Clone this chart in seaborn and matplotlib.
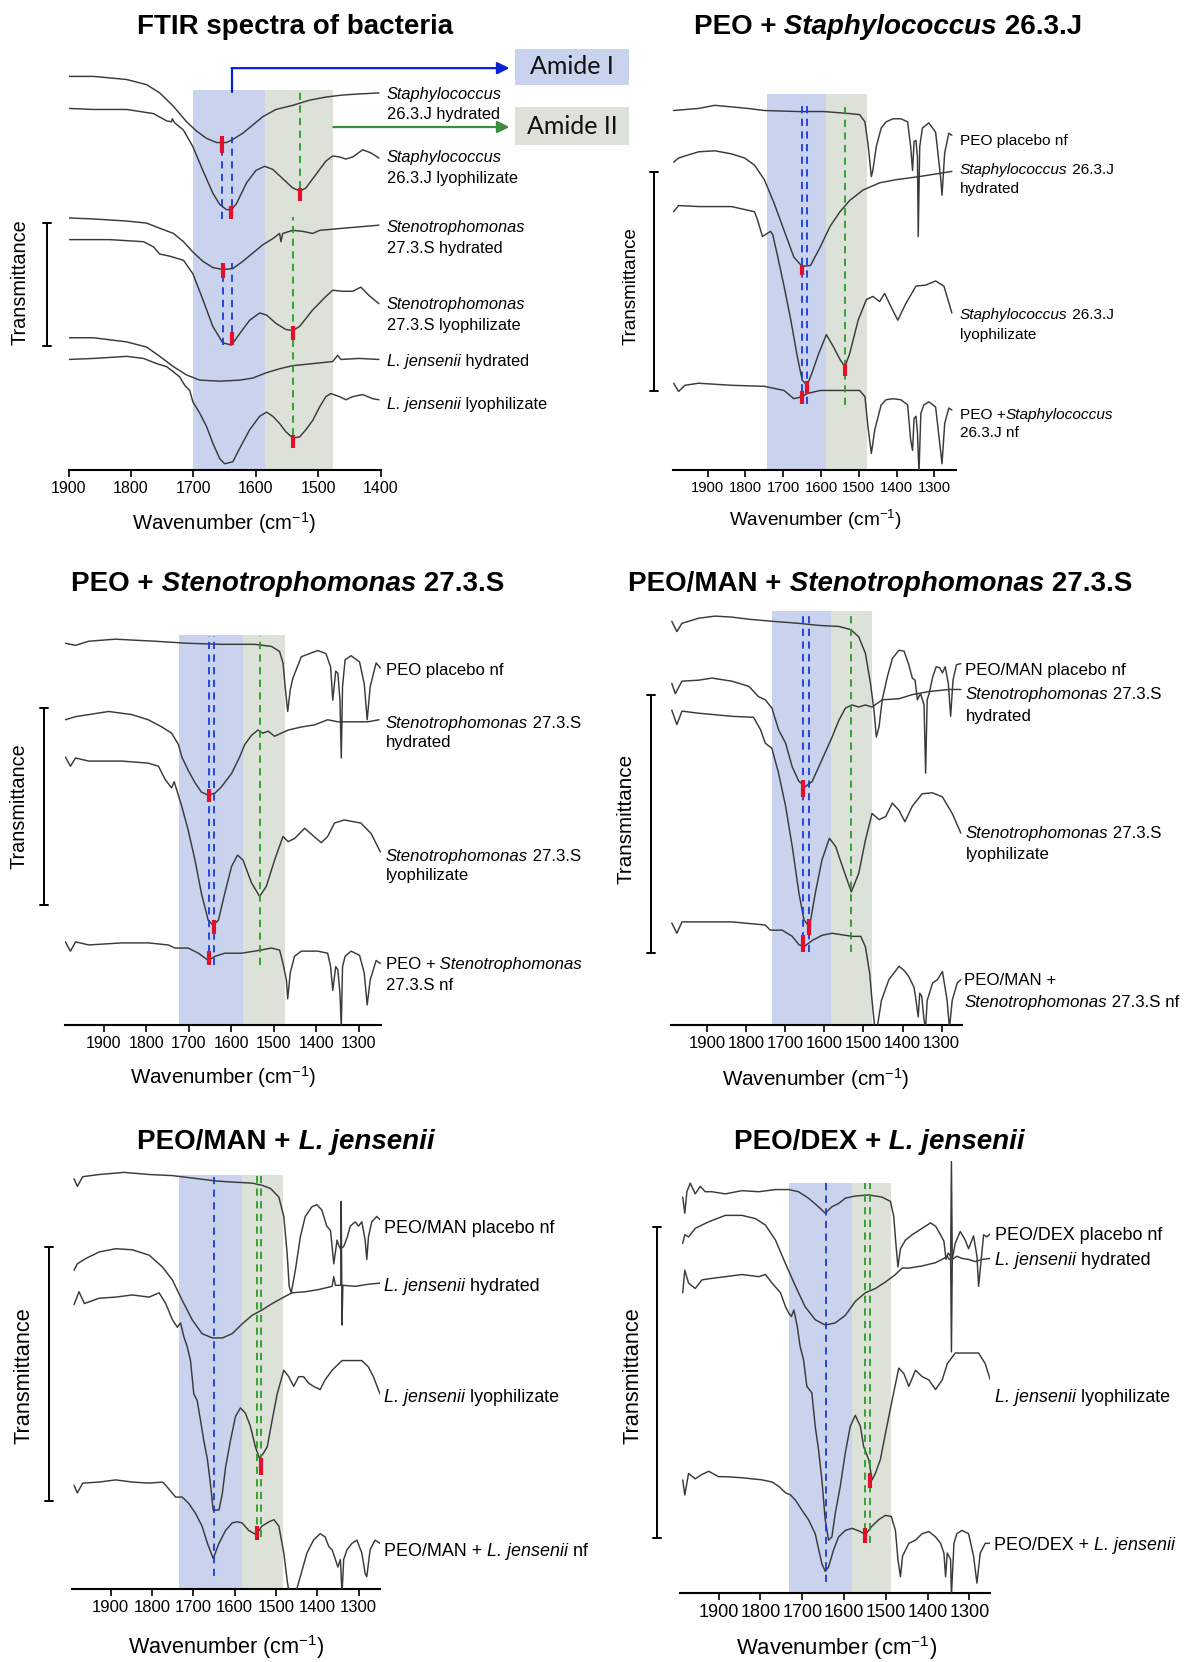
import matplotlib
matplotlib.use("Agg")
import matplotlib.pyplot as plt
import seaborn as sns
from matplotlib.lines import Line2D
from matplotlib.patches import Rectangle

# ---------------- data (wavenumber, cm-1 ; transmittance, arbitrary offset units) -------------
# Panel 1: FTIR spectra of bacteria
p1_wn_staph_hyd = [1900, 1860, 1807, 1775, 1754, 1732, 1711, 1695, 1679, 1663, 1647, 1637, 1621, 1605, 1589, 1568, 1541, 1514, 1488, 1461, 1435, 1403]
p1_t_staph_hyd = [381, 381, 378, 373, 365, 352, 337, 328, 321, 317, 317, 320, 326, 334, 342, 349, 353, 358, 361, 363, 364, 365]
p1_wn_staph_lyo = [1900, 1860, 1807, 1764, 1743, 1735, 1734, 1730, 1716, 1701, 1685, 1669, 1658, 1647, 1639, 1631, 1615, 1600, 1586, 1573, 1557, 1541, 1529, 1520, 1504, 1488, 1477, 1466, 1456, 1445, 1429, 1416, 1403]
p1_t_staph_lyo = [350, 349, 349, 345, 338, 337, 340, 336, 329, 313, 290, 268, 257, 252, 252, 258, 278, 290, 294, 291, 282, 273, 270, 273, 286, 299, 304, 303, 301, 303, 310, 307, 302]
p1_wn_steno_hyd = [1900, 1860, 1807, 1775, 1754, 1732, 1716, 1701, 1685, 1669, 1653, 1637, 1621, 1605, 1589, 1573, 1562, 1560, 1557, 1541, 1525, 1509, 1498, 1461, 1403]
p1_t_steno_hyd = [244, 243, 241, 239, 234, 229, 221, 211, 202, 196, 194, 195, 202, 210, 218, 224, 229, 221, 229, 232, 231, 229, 232, 234, 237]
p1_wn_steno_lyo = [1900, 1834, 1780, 1764, 1754, 1738, 1716, 1701, 1685, 1669, 1653, 1639, 1626, 1610, 1594, 1583, 1568, 1552, 1541, 1530, 1509, 1488, 1477, 1461, 1445, 1432, 1419, 1403]
p1_t_steno_lyo = [223, 223, 221, 216, 209, 207, 203, 190, 165, 139, 123, 121, 132, 145, 152, 150, 142, 136, 135, 139, 155, 168, 174, 173, 173, 177, 169, 161]
p1_wn_lj_hyd = [1900, 1860, 1807, 1775, 1754, 1732, 1711, 1690, 1658, 1626, 1605, 1584, 1562, 1541, 1509, 1477, 1469, 1464, 1435, 1403]
p1_t_lj_hyd = [128, 128, 124, 119, 110, 100, 92, 87, 86, 87, 89, 94, 98, 101, 103, 105, 111, 107, 108, 107]
p1_wn_lj_lyo = [1900, 1860, 1807, 1780, 1759, 1743, 1732, 1722, 1714, 1706, 1701, 1690, 1679, 1669, 1658, 1650, 1637, 1626, 1610, 1594, 1583, 1573, 1562, 1552, 1541, 1530, 1520, 1509, 1498, 1488, 1480, 1466, 1456, 1445, 1429, 1413, 1403]
p1_t_lj_lyo = [107, 108, 110, 108, 103, 100, 95, 90, 82, 77, 66, 55, 42, 26, 11, 6, 8, 21, 39, 52, 56, 52, 45, 37, 31, 32, 39, 48, 61, 71, 74, 71, 68, 71, 73, 69, 68]

# Panel 2: PEO + Staphylococcus 26.3.J
p2_wn_peo = [1990, 1924, 1881, 1794, 1750, 1663, 1593, 1524, 1498, 1484, 1476, 1467, 1463, 1454, 1441, 1428, 1410, 1389, 1371, 1363, 1358, 1354, 1349, 1345, 1343, 1339, 1332, 1315, 1297, 1284, 1280, 1273, 1262, 1254]
p2_t_peo = [348, 350, 353, 350, 348, 347, 347, 345, 344, 337, 316, 284, 290, 313, 331, 337, 340, 340, 337, 313, 290, 318, 319, 303, 226, 313, 331, 336, 327, 284, 266, 307, 326, 324]
p2_wn_staph_hyd = [1990, 1977, 1951, 1924, 1881, 1837, 1802, 1776, 1750, 1724, 1698, 1672, 1650, 1628, 1602, 1576, 1550, 1524, 1489, 1445, 1402, 1341, 1254]
p2_t_staph_hyd = [298, 302, 305, 308, 309, 306, 302, 295, 281, 258, 232, 206, 197, 198, 216, 236, 250, 261, 271, 278, 281, 284, 289]
p2_wn_staph_lyo = [1990, 1977, 1924, 1837, 1776, 1768, 1755, 1734, 1728, 1715, 1698, 1680, 1663, 1650, 1637, 1624, 1606, 1586, 1567, 1550, 1537, 1524, 1502, 1480, 1463, 1445, 1432, 1415, 1397, 1376, 1349, 1323, 1297, 1275, 1254]
p2_t_staph_lyo = [250, 256, 255, 255, 250, 242, 226, 231, 228, 207, 178, 145, 110, 87, 82, 94, 113, 131, 119, 107, 100, 113, 145, 165, 168, 163, 171, 158, 145, 161, 178, 179, 183, 178, 152]
p2_wn_nf = [1990, 1977, 1960, 1924, 1837, 1750, 1698, 1672, 1650, 1637, 1602, 1532, 1498, 1484, 1476, 1467, 1458, 1441, 1428, 1410, 1389, 1371, 1363, 1358, 1354, 1349, 1345, 1341, 1336, 1328, 1315, 1297, 1284, 1280, 1273, 1262, 1254]
p2_t_nf = [84, 76, 82, 84, 82, 81, 77, 69, 71, 74, 77, 77, 77, 71, 42, 16, 39, 63, 68, 69, 68, 63, 29, 19, 50, 52, 36, -3, 55, 63, 66, 61, 19, 6, 45, 60, 58]

# Panel 3: PEO + Stenotrophomonas 27.3.S
p3_wn_peo = [1990, 1966, 1935, 1873, 1779, 1701, 1623, 1545, 1505, 1486, 1478, 1473, 1467, 1461, 1455, 1435, 1416, 1396, 1377, 1366, 1361, 1354, 1349, 1344, 1341, 1338, 1332, 1318, 1298, 1287, 1280, 1273, 1259, 1249]
p3_t_peo = [369, 367, 371, 373, 371, 369, 368, 368, 366, 361, 350, 327, 303, 324, 335, 356, 359, 362, 359, 346, 314, 342, 340, 314, 258, 327, 353, 357, 351, 330, 295, 327, 350, 345]
p3_wn_steno_hyd = [1990, 1966, 1935, 1888, 1834, 1795, 1763, 1740, 1724, 1716, 1701, 1685, 1670, 1654, 1638, 1623, 1599, 1580, 1568, 1552, 1537, 1525, 1513, 1498, 1482, 1466, 1435, 1404, 1373, 1349, 1326, 1279, 1252]
p3_t_steno_hyd = [295, 298, 300, 303, 300, 295, 288, 282, 271, 259, 246, 234, 225, 222, 224, 230, 243, 259, 271, 280, 285, 282, 284, 279, 282, 285, 288, 290, 295, 293, 293, 293, 295]
p3_wn_steno_lyo = [1990, 1978, 1966, 1935, 1857, 1795, 1771, 1755, 1740, 1734, 1728, 1716, 1701, 1685, 1670, 1654, 1642, 1630, 1615, 1599, 1585, 1572, 1552, 1533, 1517, 1498, 1478, 1466, 1451, 1427, 1408, 1388, 1373, 1357, 1334, 1295, 1271, 1249]
p3_t_steno_lyo = [259, 250, 258, 255, 255, 253, 250, 237, 229, 235, 227, 211, 188, 159, 127, 101, 96, 101, 127, 153, 164, 159, 137, 124, 134, 159, 182, 177, 180, 190, 183, 176, 182, 195, 198, 195, 185, 167]
p3_wn_nf = [1990, 1978, 1966, 1935, 1857, 1795, 1748, 1732, 1701, 1677, 1654, 1638, 1615, 1576, 1545, 1505, 1486, 1478, 1470, 1467, 1461, 1451, 1435, 1396, 1373, 1366, 1361, 1354, 1349, 1344, 1341, 1338, 1332, 1318, 1298, 1287, 1280, 1273, 1259, 1249]
p3_t_nf = [80, 71, 80, 77, 79, 79, 77, 74, 74, 69, 62, 66, 69, 69, 71, 74, 72, 59, 43, 25, 50, 66, 71, 71, 69, 56, 33, 56, 53, 30, -3, 56, 66, 71, 67, 50, 19, 43, 62, 59]

# Panel 4: PEO/MAN + Stenotrophomonas 27.3.S
p4_wn_peo = [1990, 1977, 1964, 1921, 1879, 1836, 1793, 1734, 1665, 1614, 1563, 1533, 1512, 1495, 1482, 1473, 1467, 1460, 1452, 1439, 1426, 1409, 1396, 1384, 1375, 1368, 1362, 1354, 1345, 1341, 1337, 1332, 1323, 1314, 1305, 1298, 1291, 1283, 1277, 1271, 1262, 1251]
p4_t_peo = [391, 381, 389, 394, 396, 395, 393, 391, 389, 387, 386, 383, 376, 360, 331, 305, 279, 289, 315, 337, 355, 363, 362, 349, 336, 334, 315, 321, 310, 244, 315, 321, 337, 347, 346, 341, 347, 331, 299, 334, 349, 350]
p4_wn_steno_hyd = [1990, 1981, 1964, 1921, 1887, 1836, 1793, 1768, 1751, 1734, 1717, 1699, 1682, 1665, 1648, 1631, 1606, 1580, 1563, 1546, 1529, 1512, 1495, 1478, 1452, 1409, 1375, 1332, 1281, 1251]
p4_t_steno_hyd = [331, 321, 333, 334, 336, 333, 328, 318, 315, 307, 286, 273, 250, 236, 231, 236, 257, 279, 295, 307, 310, 308, 310, 308, 315, 316, 320, 323, 325, 325]
p4_wn_steno_lyo = [1990, 1977, 1964, 1921, 1836, 1781, 1763, 1751, 1734, 1717, 1699, 1682, 1665, 1652, 1638, 1623, 1606, 1587, 1571, 1554, 1531, 1512, 1495, 1478, 1460, 1443, 1426, 1409, 1394, 1375, 1350, 1324, 1298, 1273, 1251]
p4_t_steno_lyo = [305, 291, 304, 302, 299, 298, 286, 273, 268, 244, 212, 173, 128, 102, 95, 128, 160, 181, 173, 154, 129, 147, 179, 205, 199, 202, 215, 208, 197, 212, 224, 225, 221, 205, 186]
p4_wn_nf = [1990, 1977, 1964, 1921, 1836, 1751, 1738, 1708, 1682, 1665, 1652, 1631, 1606, 1580, 1529, 1507, 1495, 1484, 1478, 1471, 1465, 1454, 1435, 1409, 1396, 1384, 1371, 1367, 1360, 1356, 1351, 1345, 1341, 1337, 1323, 1311, 1298, 1286, 1280, 1273, 1260, 1251]
p4_t_nf = [99, 89, 100, 100, 100, 97, 92, 92, 86, 78, 76, 82, 87, 89, 86, 86, 76, 50, 24, -3, -3, 24, 44, 57, 53, 47, 37, 28, 8, 31, 28, 5, -3, 24, 41, 44, 52, 24, -3, 24, 41, 44]

# Panel 5: PEO/MAN + L. jensenii
p5_wn_peo = [1989, 1981, 1968, 1928, 1868, 1807, 1751, 1687, 1646, 1606, 1558, 1534, 1513, 1493, 1481, 1473, 1468, 1463, 1453, 1441, 1429, 1413, 1401, 1389, 1377, 1368, 1364, 1360, 1352, 1348, 1344, 1336, 1328, 1320, 1308, 1300, 1292, 1284, 1280, 1276, 1268, 1256, 1248]
p5_t_peo = [381, 374, 383, 385, 387, 385, 384, 381, 379, 378, 377, 375, 372, 364, 346, 312, 281, 275, 296, 327, 346, 355, 357, 352, 337, 333, 318, 302, 324, 319, 316, 318, 326, 337, 341, 337, 341, 324, 306, 327, 341, 346, 343]
p5_wn_lj_hyd = [1989, 1981, 1960, 1928, 1888, 1848, 1807, 1775, 1751, 1727, 1703, 1679, 1654, 1630, 1606, 1582, 1558, 1534, 1509, 1481, 1461, 1429, 1397, 1364, 1360, 1356, 1347, 1343, 1342, 1340, 1338, 1308, 1276, 1248]
p5_t_lj_hyd = [296, 302, 307, 313, 316, 315, 310, 299, 287, 268, 250, 237, 233, 233, 237, 246, 254, 259, 265, 271, 275, 276, 278, 281, 290, 282, 282, 282, 360, 245, 282, 281, 283, 284]
p5_wn_lj_lyo = [1989, 1977, 1964, 1928, 1888, 1848, 1807, 1783, 1767, 1751, 1739, 1731, 1723, 1715, 1707, 1699, 1691, 1683, 1675, 1666, 1658, 1652, 1638, 1630, 1622, 1610, 1598, 1586, 1574, 1562, 1550, 1540, 1530, 1521, 1509, 1497, 1481, 1469, 1457, 1445, 1433, 1421, 1409, 1393, 1381, 1364, 1340, 1324, 1292, 1276, 1264, 1248]
p5_t_lj_lyo = [264, 276, 265, 270, 271, 273, 271, 275, 265, 250, 243, 247, 234, 225, 212, 181, 175, 157, 138, 120, 95, 73, 73, 88, 113, 138, 160, 168, 163, 151, 132, 121, 126, 132, 157, 181, 203, 197, 188, 197, 197, 191, 188, 185, 194, 203, 212, 212, 212, 206, 197, 181]
p5_wn_nf = [1989, 1981, 1968, 1928, 1888, 1848, 1807, 1775, 1767, 1743, 1727, 1711, 1695, 1679, 1666, 1652, 1638, 1622, 1606, 1594, 1582, 1566, 1548, 1534, 1517, 1505, 1493, 1481, 1473, 1468, 1453, 1441, 1425, 1409, 1393, 1381, 1372, 1364, 1356, 1350, 1344, 1340, 1336, 1328, 1316, 1304, 1292, 1284, 1280, 1272, 1260, 1248]
p5_t_nf = [96, 89, 98, 99, 101, 99, 98, 99, 96, 85, 85, 79, 70, 58, 42, 28, 42, 54, 61, 62, 61, 54, 50, 58, 62, 64, 58, 33, 8, -5, -5, 11, 33, 45, 51, 48, 39, 36, 27, 20, 27, -5, 27, 36, 42, 45, 33, 14, 11, 36, 45, 42]

# Panel 6: PEO/DEX + L. jensenii
p6_wn_peo = [1986, 1981, 1976, 1968, 1956, 1944, 1932, 1916, 1884, 1844, 1804, 1764, 1732, 1709, 1685, 1661, 1645, 1629, 1613, 1597, 1573, 1541, 1509, 1489, 1481, 1476, 1471, 1465, 1453, 1437, 1421, 1405, 1393, 1381, 1369, 1361, 1356, 1351, 1345, 1343, 1341, 1334, 1322, 1310, 1302, 1290, 1282, 1278, 1271, 1266, 1258, 1250]
p6_t_peo = [368, 353, 373, 381, 371, 378, 373, 373, 371, 374, 373, 375, 375, 373, 367, 359, 353, 359, 362, 367, 369, 370, 368, 364, 350, 325, 303, 320, 328, 333, 337, 341, 344, 341, 333, 327, 310, 316, 313, 224, 310, 325, 336, 328, 320, 332, 313, 285, 313, 333, 331, 334]
p6_wn_lj_hyd = [1986, 1981, 1972, 1956, 1924, 1884, 1844, 1812, 1788, 1764, 1740, 1716, 1693, 1669, 1645, 1621, 1597, 1573, 1549, 1525, 1501, 1477, 1461, 1445, 1413, 1381, 1361, 1353, 1348, 1345, 1343, 1341, 1330, 1318, 1302, 1286, 1270, 1250]
p6_t_lj_hyd = [325, 333, 331, 339, 345, 351, 351, 348, 342, 328, 306, 285, 266, 254, 249, 251, 258, 271, 279, 283, 289, 296, 302, 302, 304, 307, 311, 313, 310, 310, 401, 310, 313, 311, 310, 308, 310, 311]
p6_wn_lj_lyo = [1986, 1981, 1972, 1956, 1940, 1924, 1884, 1844, 1804, 1788, 1772, 1752, 1740, 1732, 1726, 1720, 1712, 1705, 1697, 1689, 1677, 1669, 1661, 1653, 1645, 1637, 1629, 1621, 1609, 1597, 1585, 1573, 1561, 1553, 1541, 1533, 1525, 1513, 1501, 1485, 1469, 1457, 1445, 1429, 1413, 1397, 1381, 1365, 1353, 1334, 1302, 1278, 1262, 1250]
p6_t_lj_lyo = [279, 300, 288, 283, 291, 292, 294, 296, 294, 296, 288, 279, 266, 260, 257, 263, 248, 229, 217, 192, 186, 155, 133, 105, 68, 49, 52, 74, 99, 130, 155, 165, 155, 136, 124, 105, 111, 124, 148, 179, 209, 204, 192, 207, 201, 198, 189, 198, 213, 223, 223, 223, 213, 198]
p6_wn_nf = [1986, 1981, 1972, 1956, 1940, 1924, 1900, 1884, 1844, 1820, 1796, 1772, 1756, 1740, 1728, 1716, 1701, 1685, 1669, 1653, 1645, 1637, 1625, 1613, 1597, 1581, 1561, 1549, 1533, 1517, 1501, 1487, 1477, 1471, 1465, 1460, 1445, 1429, 1413, 1397, 1381, 1369, 1361, 1357, 1353, 1345, 1343, 1337, 1330, 1318, 1302, 1290, 1282, 1274, 1262, 1250]
p6_t_nf = [105, 91, 111, 106, 110, 113, 108, 108, 107, 106, 105, 103, 99, 93, 91, 86, 77, 68, 55, 27, 20, 24, 40, 52, 58, 60, 57, 54, 62, 68, 72, 71, 58, 31, 15, 34, 46, 49, 55, 57, 52, 46, 37, 15, 37, 31, -3, 46, 55, 58, 55, 34, 9, 37, 46, 46]

# Amide band regions (cm-1) and peak markers: (wavenumber, y_from, y_to)
p1_bands = [(1700, 1585), (1585, 1476)]
p2_bands = [(1743, 1587), (1587, 1478)]
p3_bands = [(1723, 1573), (1573, 1474)]
p4_bands = [(1735, 1584), (1584, 1478)]
p5_bands = [(1735, 1583), (1583, 1483)]
p6_bands = [(1732, 1582), (1582, 1487)]

p1_blue = [(1654, 243, 307), (1639, 243, 322), (1652, 121, 186), (1638, 121, 200)]
p1_green = [(1529, 260, 366), (1541, 21, 245)]
p1_red = [(1654, 307, 323), (1640, 243, 256), (1529, 260, 273), (1652, 186, 200), (1638, 121, 134), (1541, 126, 139), (1541, 21, 34)]
p2_blue = [(1650, 64, 355), (1636, 64, 355)]
p2_green = [(1538, 63, 355)]
p2_red = [(1650, 189, 198), (1636, 74, 86), (1650, 64, 76), (1538, 91, 103)]
p3_blue = [(1653, 58, 376), (1640, 58, 376)]
p3_green = [(1531, 58, 376)]
p3_red = [(1653, 215, 228), (1640, 88, 101), (1653, 58, 71)]
p4_blue = [(1654, 71, 401), (1638, 71, 401)]
p4_green = [(1531, 71, 399)]
p4_red = [(1654, 221, 237), (1638, 87, 103), (1654, 71, 87)]
p5_blue = [(1650, 12, 385)]
p5_green = [(1545, 48, 385), (1537, 48, 385)]
p5_red = [(1537, 106, 121), (1545, 45, 58)]
p6_blue = [(1643, 10, 381)]
p6_green = [(1551, 46, 381), (1537, 46, 381)]
p6_red = [(1537, 97, 111), (1549, 46, 60)]

# ---------------- style ----------------
sns.set_theme(style="white")
plt.rcParams["font.family"] = ["Liberation Sans", "DejaVu Sans"]
plt.rcParams["mathtext.fontset"] = "custom"
plt.rcParams["mathtext.rm"] = "Liberation Sans"
plt.rcParams["mathtext.it"] = "Liberation Sans:italic"
plt.rcParams["mathtext.bf"] = "Liberation Sans:bold"

W, H = 1192, 1662
fig = plt.figure(figsize=(W / 100, H / 100), dpi=100)
fig.patch.set_facecolor("white")
renderer = fig.canvas.get_renderer()

LINE = "#3a3a3a"
BLUE_BAND = "#c9d3ee"
GREEN_BAND = "#dce2d8"
BLUE_DASH = "#1c3bdc"
GREEN_DASH = "#2a9a2a"
RED = "#e3102c"


def fx(x):
    return x / W


def fy(y):
    return 1 - y / H


def rich(x, y, parts, size, center=False, bold=False):
    pxs = size * 100 / 72
    base = y + 0.35 * pxs
    arts = []
    for s, it in parts:
        t = fig.text(0, fy(base), s, fontsize=size,
                     fontstyle="italic" if it else "normal",
                     fontweight="bold" if bold else "normal",
                     ha="left", va="baseline", color="black")
        arts.append(t)
    widths = [a.get_window_extent(renderer).width for a in arts]
    x0 = x - sum(widths) / 2 if center else x
    for a, w in zip(arts, widths):
        a.set_x(fx(x0))
        x0 += w


def vline_fig(x, y0, y1, cap=4):
    fig.add_artist(Line2D([fx(x), fx(x)], [fy(y0), fy(y1)], transform=fig.transFigure, color="black", lw=1.4))
    for yy in (y0, y1):
        fig.add_artist(Line2D([fx(x - cap), fx(x + cap)], [fy(yy), fy(yy)], transform=fig.transFigure, color="black", lw=1.4))


panels = [
    dict(left=68.6, right=380.8, axis_y=470.0, top=60, ys=2.904, xlim=(1900, 1400), ticks=[1900, 1800, 1700, 1600, 1500, 1400],
         bands=p1_bands, band_top=368,
         curves=[(p1_wn_staph_hyd, p1_t_staph_hyd), (p1_wn_staph_lyo, p1_t_staph_lyo), (p1_wn_steno_hyd, p1_t_steno_hyd),
                 (p1_wn_steno_lyo, p1_t_steno_lyo), (p1_wn_lj_hyd, p1_t_lj_hyd), (p1_wn_lj_lyo, p1_t_lj_lyo)],
         blue=p1_blue, green=p1_green, red=p1_red, tick_fs=11.5),
    dict(left=672.9, right=956.4, axis_y=470.0, top=60, ys=2.904, xlim=(1992, 1242), ticks=[1900, 1800, 1700, 1600, 1500, 1400, 1300],
         bands=p2_bands, band_top=364,
         curves=[(p2_wn_peo, p2_t_peo), (p2_wn_staph_hyd, p2_t_staph_hyd), (p2_wn_staph_lyo, p2_t_staph_lyo), (p2_wn_nf, p2_t_nf)],
         blue=p2_blue, green=p2_green, red=p2_red, tick_fs=10.6),
    dict(left=64.5, right=380.8, axis_y=1024.5, top=610, ys=2.904, xlim=(1992, 1248), ticks=[1900, 1800, 1700, 1600, 1500, 1400, 1300],
         bands=p3_bands, band_top=377,
         curves=[(p3_wn_peo, p3_t_peo), (p3_wn_steno_hyd, p3_t_steno_hyd), (p3_wn_steno_lyo, p3_t_steno_lyo), (p3_wn_nf, p3_t_nf)],
         blue=p3_blue, green=p3_green, red=p3_red, tick_fs=11.5),
    dict(left=671.0, right=961.6, axis_y=1025.2, top=600, ys=2.904, xlim=(1992, 1249), ticks=[1900, 1800, 1700, 1600, 1500, 1400, 1300],
         bands=p4_bands, band_top=401,
         curves=[(p4_wn_peo, p4_t_peo), (p4_wn_steno_hyd, p4_t_steno_hyd), (p4_wn_steno_lyo, p4_t_steno_lyo), (p4_wn_nf, p4_t_nf)],
         blue=p4_blue, green=p4_green, red=p4_red, tick_fs=12),
    dict(left=72.4, right=379.6, axis_y=1588.5, top=1160, ys=2.790, xlim=(1993, 1249), ticks=[1900, 1800, 1700, 1600, 1500, 1400, 1300],
         bands=p5_bands, band_top=385,
         curves=[(p5_wn_peo, p5_t_peo), (p5_wn_lj_hyd, p5_t_lj_hyd), (p5_wn_lj_lyo, p5_t_lj_lyo), (p5_wn_nf, p5_t_nf)],
         blue=p5_blue, green=p5_green, red=p5_red, tick_fs=12),
    dict(left=680.2, right=990.3, axis_y=1592.8, top=1160, ys=2.790, xlim=(1992, 1250), ticks=[1900, 1800, 1700, 1600, 1500, 1400, 1300],
         bands=p6_bands, band_top=381,
         curves=[(p6_wn_peo, p6_t_peo), (p6_wn_lj_hyd, p6_t_lj_hyd), (p6_wn_lj_lyo, p6_t_lj_lyo), (p6_wn_nf, p6_t_nf)],
         blue=p6_blue, green=p6_green, red=p6_red, tick_fs=13),
]

axes = []
for p in panels:
    ax = fig.add_axes([fx(p["left"]), fy(p["axis_y"]), (p["right"] - p["left"]) / W, (p["axis_y"] - p["top"]) / H])
    ytop = (p["axis_y"] - p["top"]) * p["ys"] / 3
    ax.patch.set_alpha(0)
    (b0, b1), (g0, g1) = p["bands"]
    frac = p["band_top"] / ytop
    ax.axvspan(b1, b0, ymin=0, ymax=frac, color=BLUE_BAND, lw=0, zorder=0)
    ax.axvspan(g1, g0, ymin=0, ymax=frac, color=GREEN_BAND, lw=0, zorder=0)
    for wn, t in p["curves"]:
        sns.lineplot(x=wn, y=t, ax=ax, sort=False, estimator=None, color=LINE, linewidth=1.05, zorder=3, legend=False)
    for w, y0, y1 in p["blue"]:
        ax.plot([w, w], [y0, y1], color=BLUE_DASH, lw=1.3, ls=(0, (4, 3)), zorder=4)
    for w, y0, y1 in p["green"]:
        ax.plot([w, w], [y0, y1], color=GREEN_DASH, lw=1.3, ls=(0, (4, 3)), zorder=4)
    for w, y0, y1 in p["red"]:
        ax.plot([w, w], [y0, y1], color=RED, lw=3, solid_capstyle="butt", zorder=5)
    ax.set_xlim(*p["xlim"])
    ax.set_ylim(0, ytop)
    ax.set_yticks([])
    ax.set_xticks(p["ticks"])
    ax.set_xticklabels([str(v) for v in p["ticks"]])
    for s in ("left", "top", "right"):
        ax.spines[s].set_visible(False)
    ax.spines["bottom"].set_color("black")
    ax.spines["bottom"].set_linewidth(1.5)
    ax.tick_params(axis="x", direction="out", length=5, width=1.2, color="black", labelsize=p["tick_fs"], pad=3,
                   labelcolor="black", bottom=True)
    ax.set_xlabel("")
    ax.set_ylabel("")
    ax.grid(False)
    axes.append(ax)

# Amide arrows (panel 1)
ax1 = axes[0]
ax1.plot([1639, 1639], [366, 389], color="#0b22d4", lw=1.6, clip_on=False, zorder=6)
ax1.annotate("", xy=(1194, 389), xytext=(1639, 389), xycoords="data",
             arrowprops=dict(arrowstyle="-|>", color="#0b22d4", lw=1.6, mutation_scale=18, shrinkA=0, shrinkB=0),
             annotation_clip=False)
ax1.annotate("", xy=(1194, 332), xytext=(1476, 332), xycoords="data",
             arrowprops=dict(arrowstyle="-|>", color="#3b8e3b", lw=1.6, mutation_scale=18, shrinkA=0, shrinkB=0),
             annotation_clip=False)
fig.add_artist(Rectangle((fx(515), fy(85)), 114 / W, 36 / H, transform=fig.transFigure, fc=BLUE_BAND, ec="none"))
fig.add_artist(Rectangle((fx(515), fy(145)), 114 / W, 38 / H, transform=fig.transFigure, fc=GREEN_BAND, ec="none"))
fig.text(fx(572), fy(67), "Amide I", fontsize=18, family="Lato", ha="center", va="center", color="#111111")
fig.text(fx(572), fy(126), "Amide II", fontsize=18, family="Lato", ha="center", va="center", color="#111111")

# Titles
rich(294.6, 24.1, [("FTIR spectra of bacteria", False)], 20, center=True, bold=True)
rich(888.0, 24.1, [("PEO +", False), (" Staphylococcus", True), (" 26.3.J", False)], 20, center=True, bold=True)
rich(287.7, 581.7, [("PEO +", False), (" Stenotrophomonas", True), (" 27.3.S", False)], 20, center=True, bold=True)
rich(880.3, 581.7, [("PEO/MAN +", False), (" Stenotrophomonas", True), (" 27.3.S", False)], 20, center=True, bold=True)
rich(285.7, 1139.4, [("PEO/MAN +", False), (" L. jensenii", True)], 20, center=True, bold=True)
rich(879.0, 1139.4, [("PEO/DEX +", False), (" L. jensenii", True)], 20, center=True, bold=True)

# Spectrum labels
lab = [
    (386.9, 93.7, [("Staphylococcus", True)], 11.8),
    (386.9, 113.6, [("26.3.J hydrated", False)], 11.8),
    (386.9, 156.7, [("Staphylococcus", True)], 11.8),
    (386.9, 177.3, [("26.3.J lyophilizate", False)], 11.8),
    (386.9, 226.2, [("Stenotrophomonas", True)], 11.8),
    (386.9, 247.2, [("27.3.S hydrated", False)], 11.8),
    (386.9, 303.7, [("Stenotrophomonas", True)], 11.8),
    (386.9, 324.4, [("27.3.S lyophilizate", False)], 11.8),
    (386.9, 359.8, [("L. jensenii", True), (" hydrated", False)], 11.8),
    (386.9, 403.6, [("L. jensenii", True), (" lyophilizate", False)], 11.8),
    (960.0, 139.5, [("PEO placebo nf", False)], 11.1),
    (960.0, 168.7, [("Staphylococcus", True), (" 26.3.J", False)], 11.1),
    (960.0, 187.7, [("hydrated", False)], 11.1),
    (960.0, 314.0, [("Staphylococcus", True), (" 26.3.J", False)], 11.1),
    (960.0, 333.3, [("lyophilizate", False)], 11.1),
    (960.0, 413.2, [("PEO +", False), ("Staphylococcus", True)], 11.1),
    (960.0, 431.5, [("26.3.J nf", False)], 11.1),
    (385.5, 668.8, [("PEO placebo nf", False)], 12.1),
    (385.5, 722.2, [("Stenotrophomonas", True), (" 27.3.S", False)], 12.1),
    (385.5, 741.1, [("hydrated", False)], 12.1),
    (385.5, 854.8, [("Stenotrophomonas", True), (" 27.3.S", False)], 12.1),
    (385.5, 874.4, [("lyophilizate", False)], 12.1),
    (385.5, 963.2, [("PEO +", False), (" Stenotrophomonas", True)], 12.1),
    (385.5, 984.6, [("27.3.S nf", False)], 12.1),
    (965.4, 668.8, [("PEO/MAN placebo nf", False)], 12.2),
    (965.4, 692.9, [("Stenotrophomonas", True), (" 27.3.S", False)], 12.2),
    (965.4, 714.6, [("hydrated", False)], 12.2),
    (965.4, 831.7, [("Stenotrophomonas", True), (" 27.3.S", False)], 12.2),
    (965.4, 853.0, [("lyophilizate", False)], 12.2),
    (964.3, 978.7, [("PEO/MAN +", False)], 12.2),
    (964.3, 1001.1, [("Stenotrophomonas", True), (" 27.3.S nf", False)], 12.2),
    (384.3, 1227.2, [("PEO/MAN placebo nf", False)], 12.9),
    (384.3, 1284.6, [("L. jensenii", True), (" hydrated", False)], 12.9),
    (384.3, 1395.7, [("L. jensenii", True), (" lyophilizate", False)], 12.9),
    (383.6, 1549.8, [("PEO/MAN +", False), (" L. jensenii", True), (" nf", False)], 12.9),
    (995.0, 1233.3, [("PEO/DEX placebo nf", False)], 12.9),
    (995.0, 1258.4, [("L. jensenii", True), (" hydrated", False)], 12.9),
    (995.0, 1395.7, [("L. jensenii", True), (" lyophilizate", False)], 12.9),
    (994.0, 1543.7, [("PEO/DEX +", False), (" L. jensenii", True)], 12.9),
]
for x, y, parts, fs in lab:
    rich(x, y, parts, fs)

# x-axis labels
for cx, cy, fs in [(224.5, 523.4, 14.6), (815.2, 520.0, 13.7), (223.4, 1076.9, 14.8),
                   (816.1, 1078.6, 14.9), (226.4, 1646.6, 15.6), (836.2, 1648.4, 15.9)]:
    fig.text(fx(cx), fy(cy), r"Wavenumber (cm$^{-1}$)", fontsize=fs, ha="center", va="center", color="black")

# Transmittance labels and scale bars
for tx, ty, fs, bx, by0, by1 in [(20.4, 282.4, 14.3, 46.9, 223.1, 346.1),
                                 (631.0, 285.8, 13.5, 653.6, 172.2, 390.8),
                                 (19.0, 806.5, 14.3, 44.3, 707.7, 905.4),
                                 (626.4, 818.6, 14.9, 651.0, 694.6, 952.9),
                                 (23.7, 1376.0, 15.7, 49.4, 1247.0, 1501.4),
                                 (632.8, 1376.0, 15.7, 656.5, 1227.2, 1538.0)]:
    fig.text(fx(tx), fy(ty), "Transmittance", fontsize=fs, rotation=90, ha="center", va="center", color="black")
    vline_fig(bx, by0, by1)

fig.savefig("out.png", dpi=100, facecolor="white")
